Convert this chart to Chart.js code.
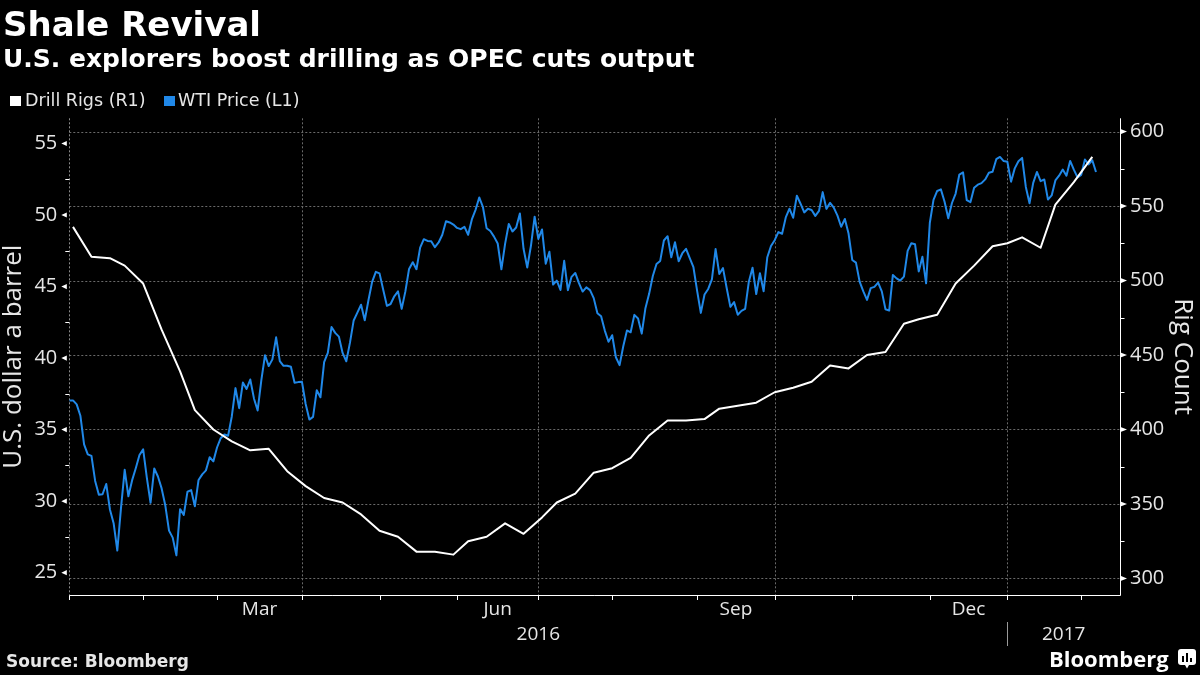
<!DOCTYPE html>
<html>
<head>
<meta charset="utf-8">
<script src="https://cdn.jsdelivr.net/npm/chart.js@4.4.1/dist/chart.umd.min.js"></script>
<style>
html,body{margin:0;padding:0;background:#000;}
#wrap{position:relative;width:1200px;height:675px;background:#000;overflow:hidden;}
#wrap canvas{position:absolute;left:0;top:0;}
.t{position:absolute;white-space:nowrap;color:#fff;}
.sq{position:absolute;}
</style>
</head>
<body>
<div id="wrap">
  <canvas id="c" width="1200" height="675"></canvas>
  <div class="t" style="left:3px;top:7px;font:bold 34px/1 'DejaVu Sans';">Shale Revival</div>
  <div class="t" style="left:3px;top:45.5px;font:bold 25px/1 'DejaVu Sans';">U.S. explorers boost drilling as OPEC cuts output</div>
  <div class="sq" style="left:10px;top:96px;width:11px;height:10px;background:#ffffff;"></div>
  <div class="t" style="left:25px;top:92px;font:17.5px/1 'DejaVu Sans';color:#e6e6e6;">Drill Rigs (R1)</div>
  <div class="sq" style="left:164px;top:96px;width:11px;height:10px;background:#2088e8;"></div>
  <div class="t" style="left:178px;top:92px;font:17.5px/1 'DejaVu Sans';color:#e6e6e6;">WTI Price (L1)</div>
  <div class="t" style="left:6px;top:653px;font:bold 17px/1 'DejaVu Sans';color:#e6e6e6;">Source: Bloomberg</div>
  <div class="t" style="left:1049px;top:647px;font:bold 22px/1 'Open Sans';">Bloomberg</div>
  <svg style="position:absolute;left:1178px;top:649px" width="18" height="20" viewBox="0 0 18 20">
    <rect x="0" y="0" width="18" height="16" rx="3" fill="#fff"/>
    <path d="M7 16 L9 19.5 L11 16 Z" fill="#fff"/>
    <rect x="4" y="7" width="2" height="6" fill="#000"/>
    <rect x="8" y="4" width="2" height="9" fill="#000"/>
    <rect x="12" y="9" width="2" height="4" fill="#000"/>
  </svg>
</div>
<script>
// ---------- DATA ----------
// Trading calendar used by the x axis (weekdays, minus days without a print)
const calendarStart = '2015-12-31';
const calendarEnd = '2017-02-06';
const skippedDays = ['2016-01-18','2016-02-15','2016-05-30','2016-07-04','2016-09-05',
                     '2016-11-24','2016-12-26','2017-01-02','2017-01-16'];

// WTI price, one value per trading day of the calendar above (USD/bbl)
const wtiPrice = [
  37.04,
  // Jan 2016
  37.04, 36.76, 35.97, 33.97, 33.27, 33.16, 31.41, 30.44, 30.48, 31.20, 29.42, 28.46, 26.55, 29.53, 32.19, 30.34, 31.45, 32.30, 33.22, 33.62,
  // Feb
  31.62, 29.88, 32.28, 31.72, 30.89, 29.69, 27.94, 27.45, 26.21, 29.44, 29.04, 30.66, 30.77, 29.64, 31.48, 31.87, 32.15, 33.07, 32.78, 33.75,
  // Mar
  34.40, 34.66, 34.57, 35.92, 37.90, 36.50, 38.29, 37.84, 38.50, 37.18, 36.34, 38.46, 40.20, 39.44, 39.91, 41.45, 39.79, 39.46, 39.46, 39.39, 38.28, 38.32, 38.34,
  // Apr
  36.79, 35.70, 35.89, 37.75, 37.26, 39.72, 40.36, 42.17, 41.76, 41.50, 40.36, 39.78, 41.08, 42.63, 43.18, 43.73, 42.64, 44.04, 45.33, 46.03, 45.92,
  // May
  44.78, 43.65, 43.78, 44.32, 44.66, 43.44, 44.66, 46.23, 46.70, 46.21, 47.72, 48.31, 48.19, 48.16, 47.75, 48.08, 48.62, 49.56, 49.48, 49.33, 49.10,
  // Jun
  49.01, 49.17, 48.62, 49.69, 50.36, 51.23, 50.56, 49.07, 48.88, 48.49, 48.01, 46.21, 47.98, 49.37, 48.85, 49.13, 50.11, 47.64, 46.33, 47.85, 49.88, 48.33,
  // Jul
  48.99, 46.60, 47.43, 45.14, 45.41, 44.76, 46.80, 44.75, 45.68, 45.95, 45.24, 44.65, 44.94, 44.75, 44.19, 43.13, 42.92, 41.92, 41.14, 41.60,
  // Aug
  40.06, 39.51, 40.83, 41.93, 41.80, 43.02, 42.77, 41.71, 43.49, 44.49, 45.74, 46.58, 46.79, 48.22, 48.52, 47.05, 48.10, 46.77, 47.33, 47.64, 46.98, 46.35, 44.70,
  // Sep
  43.16, 44.44, 44.83, 45.50, 47.62, 45.88, 46.29, 44.90, 43.58, 43.91, 43.03, 43.30, 43.44, 45.34, 46.32, 44.48, 45.93, 44.67, 47.05, 47.83, 48.24,
  // Oct
  48.81, 48.69, 49.83, 50.44, 49.81, 51.35, 50.79, 50.18, 50.44, 50.35, 49.94, 50.29, 51.60, 50.43, 50.85, 50.52, 49.96, 49.18, 49.72, 48.70, 46.86,
  // Nov
  46.67, 45.34, 44.66, 44.07, 44.89, 44.98, 45.27, 44.66, 43.41, 43.32, 45.81, 45.57, 45.42, 45.69, 47.49, 48.03, 47.96, 46.06, 47.08, 45.23, 49.44,
  // Dec
  51.06, 51.68, 51.79, 50.93, 49.77, 50.84, 51.50, 52.83, 52.98, 51.04, 50.90, 51.90, 52.12, 52.23, 52.49, 52.95, 53.02, 53.90, 54.06, 53.77, 53.72,
  // Jan 2017
  52.33, 53.26, 53.76, 53.99, 51.96, 50.82, 52.25, 53.01, 52.37, 52.48, 51.08, 51.37, 52.42, 52.75, 53.18, 52.75, 53.78, 53.17, 52.63, 52.81,
  // Feb 2017
  53.88, 53.54, 53.83, 53.01
];

// Weekly oil drill rig count
const rigDates = [
  '2016-01-01','2016-01-08','2016-01-15','2016-01-22','2016-01-29','2016-02-05','2016-02-12','2016-02-19','2016-02-26',
  '2016-03-04','2016-03-11','2016-03-18','2016-03-25','2016-04-01','2016-04-08','2016-04-15','2016-04-22','2016-04-29',
  '2016-05-06','2016-05-13','2016-05-20','2016-05-27','2016-06-03','2016-06-10','2016-06-17','2016-06-24','2016-07-01',
  '2016-07-08','2016-07-15','2016-07-22','2016-07-29','2016-08-05','2016-08-12','2016-08-19','2016-08-26','2016-09-02',
  '2016-09-09','2016-09-16','2016-09-23','2016-09-30','2016-10-07','2016-10-14','2016-10-21','2016-10-28','2016-11-04',
  '2016-11-11','2016-11-18','2016-11-25','2016-12-02','2016-12-09','2016-12-16','2016-12-23','2016-12-30','2017-01-06',
  '2017-01-13','2017-01-20','2017-01-27','2017-02-03'
];
const rigCounts = [
  536, 516, 515, 510, 498, 467, 439, 413, 400,
  392, 386, 387, 372, 362, 354, 351, 343, 332,
  328, 318, 318, 316, 325, 328, 337, 330, 341,
  351, 357, 371, 374, 381, 396, 406, 406, 407,
  414, 416, 418, 425, 428, 432, 443, 441, 450,
  452, 471, 474, 477, 498, 510, 523, 525, 529,
  522, 551, 566, 583
];

// Axis ticks and labels
const leftTicks = [25, 30, 35, 40, 45, 50, 55];
const leftMinorTicks = [27.5, 32.5, 37.5, 42.5, 47.5, 52.5];
const rightTicks = [300, 350, 400, 450, 500, 550, 600];
const rightMinorTicks = [325, 375, 425, 475, 525, 575];
const monthLabelKeys = ['2016-03', '2016-06', '2016-09', '2016-12'];
const monthLabelNames = ['Mar', 'Jun', 'Sep', 'Dec'];
const yearLabels = ['2016', '2017'];
const gridMonthKeys = ['2016-04', '2016-07', '2016-10', '2017-01'];

// ---------- CALENDAR ----------
const calendar = [];
(function () {
  const skip = new Set(skippedDays);
  let d = new Date(calendarStart + 'T00:00:00Z');
  const end = new Date(calendarEnd + 'T00:00:00Z');
  while (d <= end) {
    const wd = d.getUTCDay();
    const iso = d.toISOString().slice(0, 10);
    if (wd !== 0 && wd !== 6 && !skip.has(iso)) calendar.push(iso);
    d = new Date(d.getTime() + 86400000);
  }
})();
const dayIndex = {};
calendar.forEach((d, i) => { dayIndex[d] = i; });
// month boundary: position of the last trading day of the previous month
const monthTick = {};
for (let i = 1; i < calendar.length; i++) {
  const m = calendar[i].slice(0, 7);
  if (m !== calendar[i - 1].slice(0, 7)) monthTick[m] = i - 1;
}
const monthTickList = Object.values(monthTick);
const X_MAX = 284.5;

const xLabelValues = [];
const xLabelTexts = [];
monthLabelKeys.forEach((k, j) => {
  const keys = Object.keys(monthTick);
  const nextKey = keys[keys.indexOf(k) + 1];
  xLabelValues.push((monthTick[k] + monthTick[nextKey]) / 2);
  xLabelTexts.push(monthLabelNames[j]);
});
xLabelValues.push((monthTick['2016-01'] + monthTick['2017-01']) / 2);
xLabelTexts.push(['', yearLabels[0]]);
xLabelValues.push((monthTick['2017-01'] + X_MAX) / 2);
xLabelTexts.push(['', yearLabels[1]]);

const wtiPoints = wtiPrice.map((v, i) => ({ x: i, y: v }));
const rigPoints = rigDates.map((d, k) => ({ x: dayIndex[d], y: rigCounts[k] }));

// ---------- DECORATION PLUGIN ----------
const decor = {
  id: 'decor',
  beforeDatasetsDraw(chart) {
    const { ctx, chartArea: a, scales } = chart;
    const x = scales.x, y1 = scales.y1;
    ctx.save();
    ctx.strokeStyle = '#6a6a6a';
    ctx.lineWidth = 1;
    ctx.setLineDash([2, 2]);
    ctx.beginPath();
    rightTicks.forEach(v => {
      const py = Math.round(y1.getPixelForValue(v)) + 0.5;
      ctx.moveTo(a.left, py); ctx.lineTo(a.right, py);
    });
    gridMonthKeys.forEach(k => {
      const px = Math.round(x.getPixelForValue(monthTick[k])) + 0.5;
      ctx.moveTo(px, a.top); ctx.lineTo(px, a.bottom);
    });
    ctx.stroke();
    ctx.strokeStyle = '#8a8a8a';
    ctx.beginPath();
    const lx = Math.round(a.left) + 0.5;
    ctx.moveTo(lx, a.top); ctx.lineTo(lx, a.bottom);
    ctx.stroke();
    ctx.restore();
  },
  afterDatasetsDraw(chart) {
    const { ctx, chartArea: a, scales } = chart;
    const x = scales.x, y = scales.y, y1 = scales.y1;
    ctx.save();
    ctx.setLineDash([]);
    ctx.strokeStyle = '#ffffff';
    ctx.fillStyle = '#ffffff';
    ctx.lineWidth = 1;
    const bx = Math.round(a.bottom) + 0.5;
    const rx = Math.round(a.right) + 0.5;
    // axis lines
    ctx.beginPath();
    ctx.moveTo(a.left, bx); ctx.lineTo(rx, bx);
    ctx.moveTo(rx, a.top); ctx.lineTo(rx, bx);
    // month ticks
    monthTickList.forEach(i => {
      const px = Math.round(x.getPixelForValue(i)) + 0.5;
      if (px <= rx + 1) { ctx.moveTo(px, bx); ctx.lineTo(px, bx + 4.5); }
    });
    // minor ticks
    leftMinorTicks.forEach(v => {
      const py = Math.round(y.getPixelForValue(v)) + 0.5;
      ctx.moveTo(a.left - 4, py); ctx.lineTo(a.left, py);
    });
    rightMinorTicks.forEach(v => {
      const py = Math.round(y1.getPixelForValue(v)) + 0.5;
      ctx.moveTo(rx, py); ctx.lineTo(rx + 4, py);
    });
    ctx.stroke();
    // major tick triangles
    leftTicks.forEach(v => {
      const py = y.getPixelForValue(v);
      ctx.beginPath();
      ctx.moveTo(a.left - 8, py);
      ctx.lineTo(a.left - 2.5, py - 2.6);
      ctx.lineTo(a.left - 2.5, py + 2.6);
      ctx.closePath(); ctx.fill();
    });
    rightTicks.forEach(v => {
      const py = y1.getPixelForValue(v);
      ctx.beginPath();
      ctx.moveTo(rx, py - 2.6);
      ctx.lineTo(rx, py + 2.6);
      ctx.lineTo(rx + 6.5, py);
      ctx.closePath(); ctx.fill();
    });
    // year separator
    ctx.strokeStyle = '#9a9a9a';
    const sx = Math.round(x.getPixelForValue(monthTick['2017-01'])) + 0.5;
    ctx.beginPath();
    ctx.moveTo(sx, 622); ctx.lineTo(sx, 646);
    ctx.stroke();
    ctx.restore();
  }
};

// ---------- CHART ----------
const labelColor = '#e6e6e6';
new Chart(document.getElementById('c').getContext('2d'), {
  type: 'line',
  data: {
    datasets: [
      {
        label: 'Drill Rigs (R1)',
        data: rigPoints,
        yAxisID: 'y1',
        borderColor: '#ffffff',
        borderWidth: 2,
        pointRadius: 0,
        tension: 0,
        borderJoinStyle: 'round',
        order: 0
      },
      {
        label: 'WTI Price (L1)',
        data: wtiPoints,
        yAxisID: 'y',
        borderColor: '#2088e8',
        borderWidth: 2,
        pointRadius: 0,
        tension: 0,
        borderJoinStyle: 'round',
        order: 1
      }
    ]
  },
  options: {
    responsive: false,
    animation: false,
    events: [],
    layout: { padding: { top: 118.3, left: 0, right: 0, bottom: 0 } },
    plugins: { legend: { display: false }, tooltip: { enabled: false } },
    scales: {
      x: {
        type: 'linear',
        position: 'bottom',
        min: 0,
        max: X_MAX,
        grid: { display: false, drawTicks: false },
        border: { display: false },
        afterBuildTicks: s => { s.ticks = xLabelValues.map(v => ({ value: v })); },
        afterFit: s => { s.height = 80; },
        ticks: {
          autoSkip: false,
          maxRotation: 0,
          minRotation: 0,
          padding: 2,
          color: labelColor,
          font: { family: 'Open Sans', size: 19, lineHeight: 25 / 19 },
          callback: (v, i) => xLabelTexts[i]
        }
      },
      y: {
        type: 'linear',
        position: 'left',
        min: 23.44,
        max: 56.76,
        grid: { display: false, drawTicks: false },
        border: { display: false },
        afterBuildTicks: s => { s.ticks = leftTicks.map(v => ({ value: v })); },
        afterFit: s => { s.width = 69.3; },
        ticks: {
          padding: 12,
          color: labelColor,
          font: { family: 'Open Sans', size: 20 },
          callback: v => String(v)
        },
        title: {
          display: true,
          text: 'U.S. dollar a barrel',
          color: labelColor,
          font: { family: 'Open Sans', size: 26, lineHeight: 1.07 },
          padding: { top: 0, bottom: 0 }
        }
      },
      y1: {
        type: 'linear',
        position: 'right',
        min: 288.9,
        max: 608.9,
        grid: { display: false, drawTicks: false },
        border: { display: false },
        afterBuildTicks: s => { s.ticks = rightTicks.map(v => ({ value: v })); },
        afterFit: s => { s.width = 80; },
        ticks: {
          padding: 10,
          color: labelColor,
          font: { family: 'Open Sans', size: 20 },
          callback: v => String(v)
        },
        title: {
          display: true,
          text: 'Rig Count',
          color: labelColor,
          font: { family: 'Open Sans', size: 26, lineHeight: 1.07 },
          padding: { top: 4, bottom: 0 }
        }
      }
    }
  },
  plugins: [decor]
});
</script>
</body>
</html>
